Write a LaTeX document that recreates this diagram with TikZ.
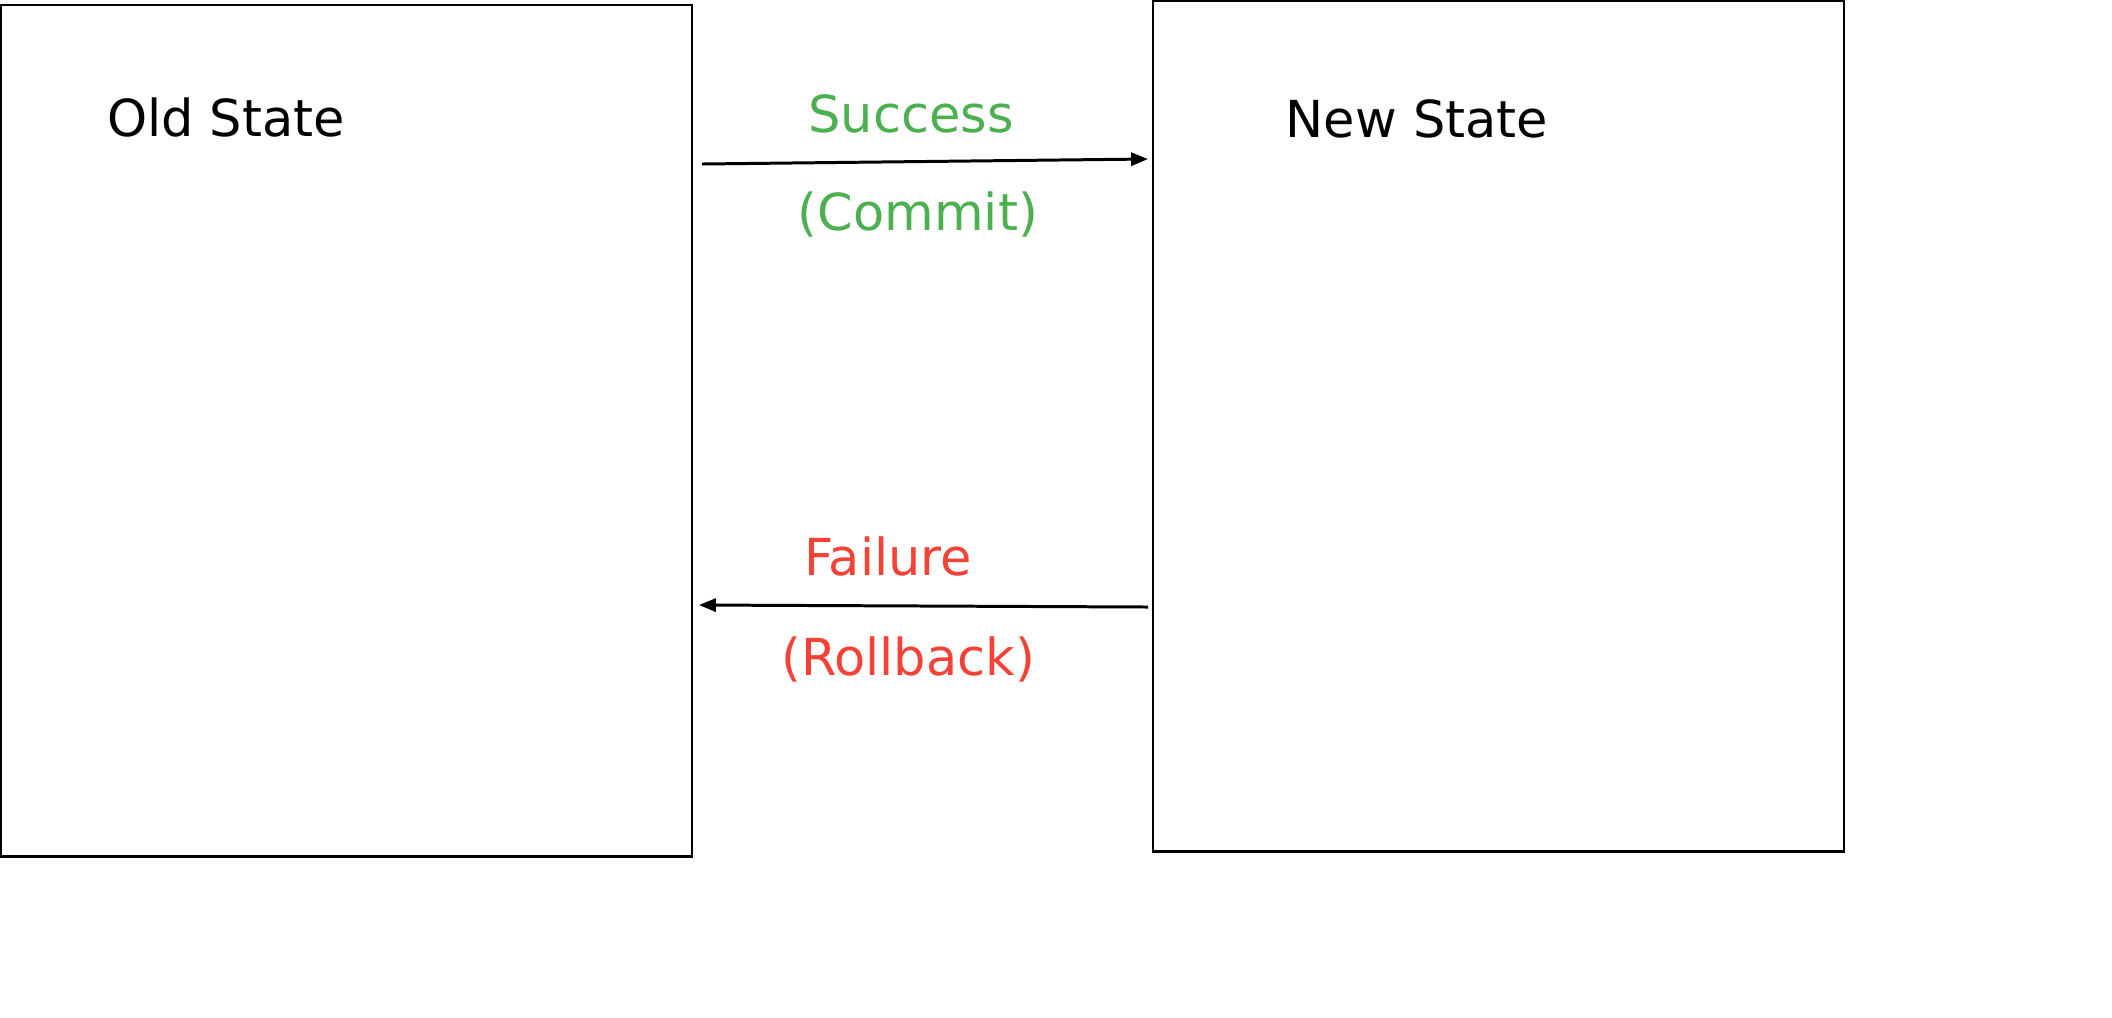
\documentclass[tikz,border=0pt]{standalone}
\usepackage{fontspec}
\setmainfont{DejaVu Sans}
\usetikzlibrary{arrows.meta}
\definecolor{okgreen}{RGB}{76,175,80}
\definecolor{badred}{RGB}{244,67,54}
\tikzset{
  statebox/.style={draw=black, line width=0.6pt, rectangle, inner sep=0pt, outer sep=0pt, anchor=north west},
  lbl/.style={inner sep=0pt, anchor=base, font=\fontsize{14.5}{17}\selectfont},
  flow/.style={draw=black, line width=0.85pt, -{Triangle[length=4.8pt,width=3.7pt]}}
}
\begin{document}
\begin{tikzpicture}[x=0.01cm,y=-0.01cm]
\useasboundingbox (0,0) rectangle (2112,1017);
\node[statebox, minimum width=6.91cm, minimum height=8.51cm] (old) at (1,5) {};
\node[statebox, minimum width=6.91cm, minimum height=8.50cm] (new) at (1153,1) {};
\node[lbl] (oldlbl) at (226,136) {Old State};
\node[lbl] (newlbl) at (1417,137) {New State};
\node[lbl, text=okgreen] (succ) at (911,132) {Success};
\node[lbl, text=okgreen] (commit) at (918,230) {(Commit)};
\node[lbl, text=badred] (fail) at (888,575) {Failure};
\node[lbl, text=badred] (roll) at (908,675) {(Rollback)};
\coordinate (s1) at (702,164);
\coordinate (s2) at (1148,159);
\coordinate (f1) at (1148,607);
\coordinate (f2) at (699,605);
\draw[flow] (s1) -- (s2);
\draw[flow] (f1) -- (f2);
\end{tikzpicture}
\end{document}
